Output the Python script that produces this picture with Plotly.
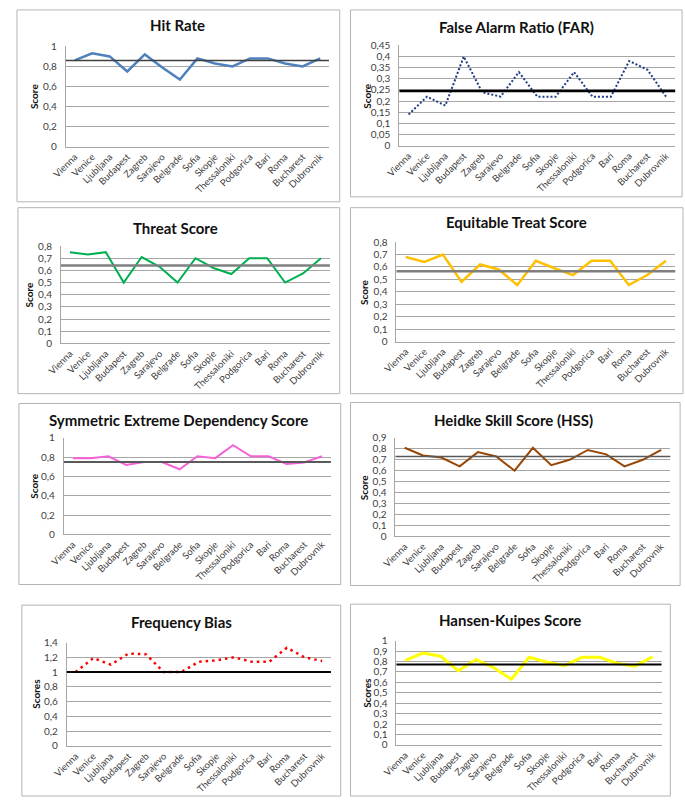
import plotly.graph_objects as go

cities = ["Vienna", "Venice", "Ljubljana", "Budapest", "Zagreb", "Sarajevo", "Belgrade",
          "Sofia", "Skopje", "Thessaloniki", "Podgorica", "Bari", "Roma", "Bucharest", "Dubrovnik"]

hit_rate = [0.86, 0.93, 0.90, 0.75, 0.92, 0.79, 0.67, 0.88, 0.83, 0.80, 0.88, 0.88, 0.83, 0.80, 0.88]
far = [0.14, 0.22, 0.18, 0.40, 0.24, 0.22, 0.33, 0.22, 0.22, 0.33, 0.22, 0.22, 0.38, 0.34, 0.22]
threat = [0.75, 0.73, 0.75, 0.50, 0.71, 0.63, 0.50, 0.70, 0.62, 0.57, 0.70, 0.70, 0.50, 0.575, 0.70]
ets = [0.68, 0.64, 0.70, 0.48, 0.62, 0.58, 0.455, 0.65, 0.59, 0.535, 0.65, 0.65, 0.455, 0.535, 0.65]
seds = [0.79, 0.79, 0.81, 0.72, 0.75, 0.75, 0.675, 0.81, 0.79, 0.925, 0.81, 0.81, 0.73, 0.745, 0.81]
hss = [0.81, 0.74, 0.72, 0.64, 0.77, 0.73, 0.60, 0.81, 0.65, 0.70, 0.79, 0.75, 0.64, 0.70, 0.79]
freq_bias = [1.00, 1.19, 1.10, 1.25, 1.24, 1.00, 1.00, 1.14, 1.16, 1.20, 1.14, 1.14, 1.33, 1.20, 1.15]
hk = [0.81, 0.88, 0.85, 0.71, 0.82, 0.74, 0.63, 0.84, 0.795, 0.76, 0.84, 0.84, 0.78, 0.755, 0.845]

titles = ["Hit Rate", "False Alarm Ratio (FAR)", "Threat Score", "Equitable Treat Score",
          "Symmetric Extreme Dependency Score", "Heidke Skill Score (HSS)",
          "Frequency Bias", "Hansen-Kuipes Score"]
y_titles = ["Score", "Score", "Score", "Score", "Score", "Score", "Scores", "Scores"]
reference_values = [0.86, 0.245, 0.64, 0.565, 0.75, 0.73, 1.0, 0.77]
y_max = [1.0, 0.45, 0.8, 0.8, 1.0, 0.9, 1.4, 1.0]
y_step = [0.2, 0.05, 0.1, 0.1, 0.2, 0.1, 0.2, 0.1]

series = [hit_rate, far, threat, ets, seds, hss, freq_bias, hk]

W, H = 685, 804

# layout (pixels)
plot_boxes = [  # left, right, top, bottom of plot area
    (52, 321, 40, 142), (393, 675, 39, 141),
    (47, 322, 243, 342), (390, 675, 239, 340),
    (50, 323, 438, 536), (389, 670, 438, 538),
    (53, 323, 646, 751), (390, 661, 644, 750),
]
frames = [
    (2, 332, 3, 198), (343, 682, 3, 193),
    (3, 332, 204, 393), (343, 683, 204, 393),
    (4, 333, 403, 587), (343, 680, 402, 588),
    (7, 333, 608, 802), (343, 670, 607, 802),
]
title_pos = [(166, 18), (513, 20), (164, 225), (513, 219),
             (167, 420), (510, 420), (170, 625), (506, 623)]
ytitle_x = [19, 359, 14, 357, 20, 357, 22, 360]

styles = [
    dict(color="#4f81bd", width=2.5),
    dict(color="#1f3c88", width=2, dash="2px,2px"),
    dict(color="#00b050", width=2),
    dict(color="#ffc000", width=2.5),
    dict(color="#f463d8", width=2),
    dict(color="#974706", width=2),
    dict(color="#ff0000", width=2.5, dash="2.5px,4px"),
    dict(color="#ffff00", width=3),
]
ref_styles = [
    dict(color="#404040", width=1.5),
    dict(color="#000000", width=2.5),
    dict(color="#7f7f7f", width=2.5),
    dict(color="#7f7f7f", width=2.5),
    dict(color="#595959", width=2),
    dict(color="#595959", width=1.5),
    dict(color="#000000", width=2),
    dict(color="#000000", width=2),
]

FONT = "Lato"
fig = go.Figure()
layout = dict(width=W, height=H, margin=dict(l=0, r=0, t=0, b=0),
              paper_bgcolor="white", plot_bgcolor="white", showlegend=False,
              font=dict(family=FONT, color="#404040"))
shapes = []
annotations = []


def fmt(v):
    s = ("%.2f" % v).rstrip("0").rstrip(".")
    return s.replace(".", ",")


for i in range(8):
    n = "" if i == 0 else str(i + 1)
    xa, ya = "xaxis" + n, "yaxis" + n
    xr, yr = "x" + n, "y" + n
    l, r, t, b = plot_boxes[i]
    nt = int(round(y_max[i] / y_step[i]))
    tv = [round(k * y_step[i], 4) for k in range(nt + 1)]
    layout[xa] = dict(domain=[l / W, r / W], anchor=yr, range=[-0.5, len(cities) - 0.5],
                      tickmode="array", tickvals=list(range(len(cities))), ticktext=cities,
                      tickangle=-45, tickfont=dict(size=9.5, color="#404040"),
                      showgrid=False, showline=True, linecolor="#a6a6a6", linewidth=1,
                      ticks="", zeroline=False, fixedrange=True)
    layout[ya] = dict(domain=[1 - b / H, 1 - t / H], anchor=xr, range=[0, y_max[i]],
                      tickmode="array", tickvals=tv, ticktext=[fmt(v) for v in tv],
                      tickfont=dict(size=10, color="#404040"), showgrid=True,
                      gridcolor="#a6a6a6", gridwidth=1, showline=True, linecolor="#a6a6a6",
                      linewidth=1, ticks="", ticklabelstandoff=6, zeroline=False,
                      fixedrange=True)
    fig.add_trace(go.Scatter(x=list(range(len(cities))), y=series[i], mode="lines",
                             line=styles[i], xaxis=xr, yaxis=yr, hoverinfo="skip"))
    shapes.append(dict(type="line", xref=xr + " domain", yref=yr, x0=0, x1=1,
                       y0=reference_values[i], y1=reference_values[i], line=ref_styles[i],
                       layer="above"))
    fl, fr, ft, fb = frames[i]
    shapes.append(dict(type="rect", xref="paper", yref="paper", x0=fl / W, x1=fr / W,
                       y0=1 - fb / H, y1=1 - ft / H, line=dict(color="#b4b4b4", width=1),
                       layer="below"))
    tx, ty = title_pos[i]
    annotations.append(dict(text="<b>%s</b>" % titles[i], x=tx / W, y=1 - ty / H,
                            xref="paper", yref="paper", showarrow=False,
                            font=dict(size=15, color="#111111", family=FONT),
                            xanchor="center", yanchor="middle"))
    annotations.append(dict(text="<b>%s</b>" % y_titles[i], x=ytitle_x[i] / W,
                            y=1 - ((t + b) / 2) / H, xref="paper", yref="paper",
                            showarrow=False, textangle=-90,
                            font=dict(size=10, color="#111111", family=FONT),
                            xanchor="center", yanchor="middle"))

layout["shapes"] = shapes
layout["annotations"] = annotations
fig.update_layout(**layout)
fig.write_html("out.html", config={"displayModeBar": False, "staticPlot": True},
               post_script="document.body.style.margin='0';document.body.style.overflow='hidden';")
